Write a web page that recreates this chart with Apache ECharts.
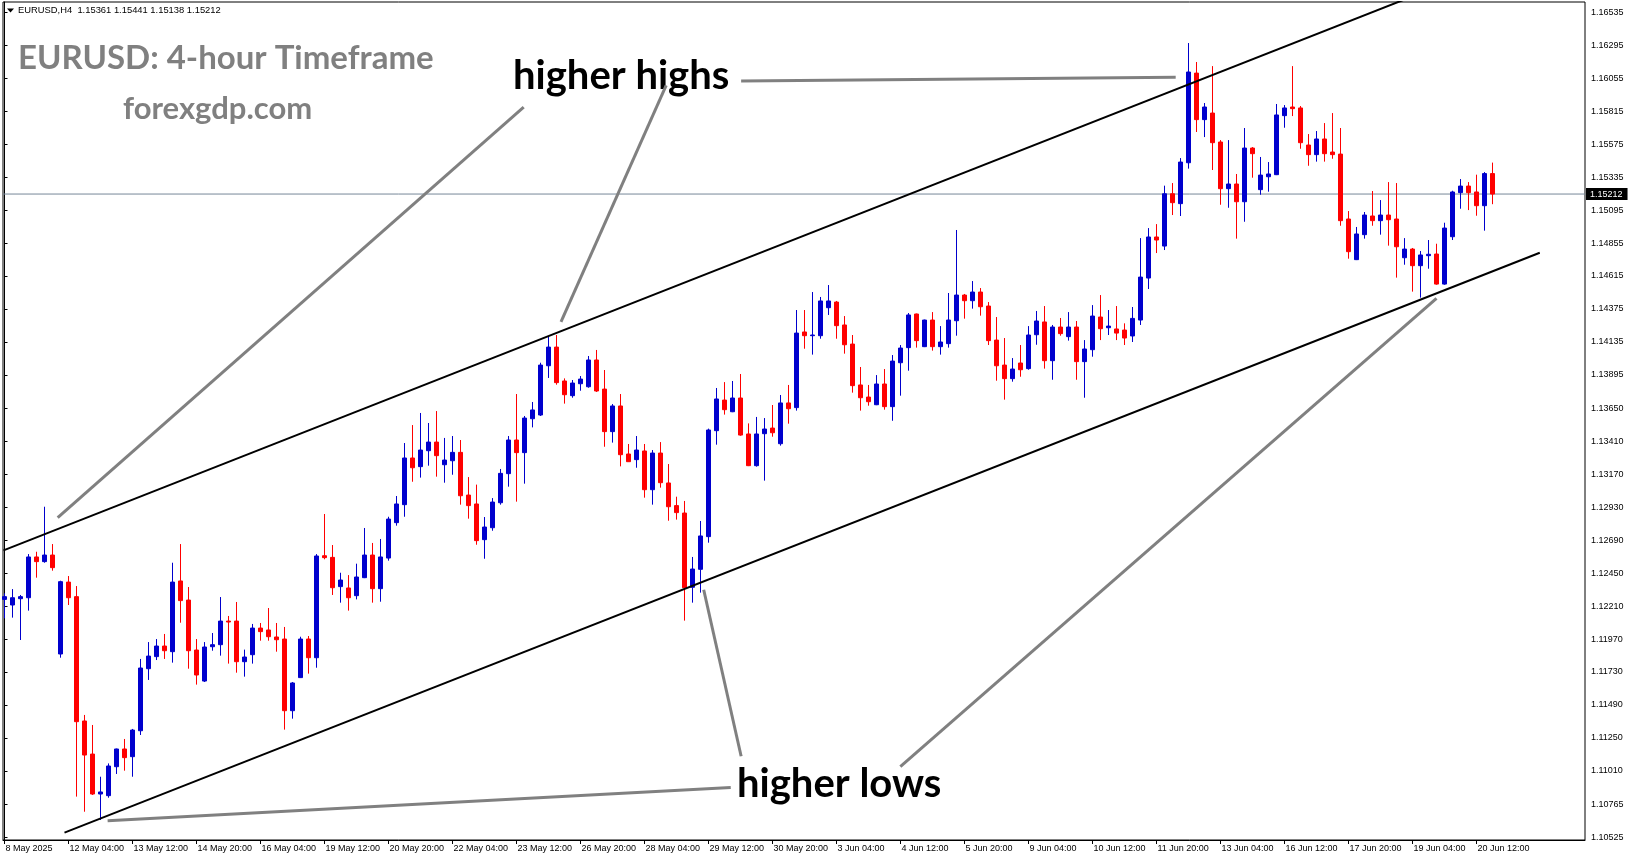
<!DOCTYPE html>
<html>
<head>
<meta charset="utf-8">
<script src="https://cdn.jsdelivr.net/npm/echarts@6/dist/echarts.min.js"></script>
<style>
html,body{margin:0;padding:0;background:#fff;}
#chart{width:1631px;height:861px;}
</style>
</head>
<body>
<div id="chart"></div>
<script>
// ---- data (EURUSD H4, bar 0 = 8 May 2025 20:00) ----
const symbol = "EURUSD";
const timeframe = "H4";
const open = [1.12259,1.12218,1.12264,1.12271,1.12568,1.12534,1.12582,1.11861,1.12385,1.12279,
1.11373,1.11132,1.10841,1.10829,1.11040,1.11169,1.11113,1.11302,1.11754,1.11842,
1.11919,1.11878,1.12393,1.12254,1.11890,1.11664,1.11914,1.11929,1.12101,1.12101,
1.11805,1.11856,1.12050,1.12036,1.11985,1.11970,1.11448,1.11689,1.11970,1.11834,
1.12577,1.12565,1.12352,1.12342,1.12286,1.12417,1.12582,1.12337,1.12560,1.12818,
1.12949,1.13289,1.13226,1.13342,1.13405,1.13240,1.13269,1.13330,1.13019,1.12954,
1.12694,1.12781,1.12963,1.13175,1.13420,1.13328,1.13575,1.13602,1.13961,1.14097,
1.13850,1.13743,1.13830,1.13808,1.14003,1.13791,1.13481,1.13668,1.13318,1.13277,
1.13340,1.13058,1.13325,1.13107,1.12942,1.12888,1.12347,1.12478,1.12716,1.13488,
1.13711,1.13626,1.13726,1.13464,1.13233,1.13466,1.13507,1.13393,1.13690,1.13656,
1.14207,1.14180,1.14180,1.14384,1.14425,1.14258,1.14119,1.13821,1.13733,1.13677,
1.13828,1.13663,1.13983,1.14093,1.14338,1.14100,1.14294,1.14100,1.14122,1.14289,
1.14476,1.14435,1.14498,1.14396,1.14148,1.13966,1.13867,1.13981,1.13940,1.14187,
1.14280,1.13998,1.14243,1.14173,1.14243,1.13991,1.14078,1.14316,1.14238,1.14229,
1.14221,1.14178,1.14294,1.14600,1.14899,1.14833,1.15214,1.15142,1.15440,1.16093,
1.15754,1.15802,1.15591,1.15251,1.15285,1.15156,1.15547,1.15244,1.15338,1.15353,
1.15783,1.15846,1.15839,1.15569,1.15499,1.15613,1.15518,1.15503,1.15030,1.14734,
1.14916,1.15052,1.15018,1.15059,1.15030,1.14748,1.14811,1.14690,1.14763,1.14775,
1.14556,1.14901,1.15222,1.15270,1.15227,1.15127,1.15361];
const high = [1.12303,1.12334,1.12291,1.12589,1.12606,1.12934,1.12662,1.12395,1.12429,1.12356,
1.11417,1.11344,1.10967,1.11064,1.11172,1.11242,1.11315,1.11825,1.11948,1.11970,
1.12007,1.12526,1.12662,1.12349,1.11970,1.11948,1.12014,1.12276,1.12138,1.12240,
1.11893,1.12080,1.12087,1.12196,1.12087,1.12058,1.11657,1.11987,1.11992,1.12589,
1.12881,1.12655,1.12453,1.12436,1.12519,1.12779,1.12670,1.12699,1.12861,1.13012,
1.13398,1.13529,1.13617,1.13544,1.13631,1.13435,1.13449,1.13420,1.13150,1.13095,
1.12859,1.12997,1.13209,1.13449,1.13755,1.13595,1.13697,1.13983,1.14178,1.14185,
1.13869,1.13857,1.13886,1.14032,1.14076,1.13930,1.13682,1.13755,1.13391,1.13449,
1.13391,1.13347,1.13405,1.13245,1.13007,1.12976,1.12568,1.12830,1.13503,1.13799,
1.13842,1.13850,1.13901,1.13541,1.13588,1.13580,1.13675,1.13748,1.13821,1.14367,
1.14367,1.14498,1.14462,1.14549,1.14433,1.14323,1.14185,1.13952,1.13821,1.13893,
1.13937,1.14039,1.14112,1.14345,1.14341,1.14297,1.14352,1.14250,1.14491,1.14950,
1.14484,1.14578,1.14527,1.14425,1.14316,1.14163,1.14017,1.14112,1.14250,1.14360,
1.14396,1.14258,1.14309,1.14352,1.14287,1.14148,1.14403,1.14476,1.14367,1.14396,
1.14270,1.14389,1.14891,1.14964,1.14993,1.15273,1.15292,1.15474,1.16312,1.16174,
1.15875,1.16144,1.15605,1.15605,1.15358,1.15693,1.15554,1.15482,1.15445,1.15868,
1.15860,1.16144,1.15853,1.15649,1.15671,1.15729,1.15802,1.15693,1.15088,1.14972,
1.15081,1.15234,1.15168,1.15299,1.15292,1.14891,1.14819,1.14797,1.14877,1.14850,
1.15003,1.15236,1.15321,1.15299,1.15353,1.15372,1.15441];
const low = [1.12121,1.12126,1.11963,1.12177,1.12417,1.12526,1.12468,1.11834,1.12218,1.10822,
1.10712,1.10834,1.10652,1.10814,1.10987,1.11011,1.10967,1.11271,1.11672,1.11817,
1.11825,1.11798,1.12089,1.11754,1.11638,1.11657,1.11885,1.11849,1.11791,1.11725,
1.11696,1.11791,1.11958,1.11958,1.11878,1.11310,1.11390,1.11686,1.11718,1.11761,
1.12551,1.12291,1.12235,1.12177,1.12259,1.12414,1.12235,1.12242,1.12541,1.12796,
1.12861,1.13116,1.13146,1.13233,1.13153,1.13109,1.13167,1.12949,1.12847,1.12657,
1.12555,1.12759,1.12949,1.13080,1.12971,1.13102,1.13512,1.13595,1.13872,1.13823,
1.13685,1.13728,1.13779,1.13801,1.13770,1.13371,1.13401,1.13228,1.13260,1.13218,
1.13000,1.12949,1.13073,1.12832,1.12840,1.12104,1.12235,1.12308,1.12672,1.13386,
1.13605,1.13623,1.13451,1.13230,1.13226,1.13124,1.13444,1.13379,1.13539,1.13634,
1.14085,1.14042,1.14158,1.14331,1.14158,1.14049,1.13765,1.13634,1.13670,1.13674,
1.13641,1.13560,1.13743,1.13925,1.14093,1.14097,1.14071,1.14042,1.14093,1.14180,
1.14304,1.14377,1.14326,1.14112,1.13852,1.13714,1.13845,1.13881,1.13932,1.14114,
1.13940,1.13859,1.14180,1.14144,1.13859,1.13728,1.14027,1.14148,1.14185,1.14148,
1.14112,1.14134,1.14258,1.14520,1.14782,1.14804,1.15059,1.15052,1.15397,1.15664,
1.15627,1.15387,1.15134,1.15112,1.14887,1.15010,1.15331,1.15207,1.15229,1.15350,
1.15695,1.15780,1.15542,1.15418,1.15448,1.15448,1.15469,1.14981,1.14741,1.14731,
1.14887,1.14981,1.14916,1.14836,1.14603,1.14697,1.14501,1.14457,1.14668,1.14551,
1.14551,1.14877,1.15105,1.15095,1.15054,1.14945,1.15138];
const close = [1.12279,1.12271,1.12279,1.12568,1.12534,1.12582,1.12490,1.12388,1.12271,1.11368,
1.11125,1.10841,1.10856,1.11045,1.11169,1.11106,1.11307,1.11759,1.11846,1.11919,
1.11885,1.12385,1.12250,1.11885,1.11708,1.11912,1.11929,1.12101,1.12094,1.11805,
1.11839,1.12050,1.12024,1.11987,1.11965,1.11448,1.11650,1.11970,1.11834,1.12575,
1.12563,1.12344,1.12400,1.12271,1.12422,1.12582,1.12337,1.12568,1.12844,1.12954,
1.13289,1.13218,1.13347,1.13405,1.13306,1.13274,1.13330,1.13014,1.12942,1.12687,
1.12786,1.12968,1.13177,1.13420,1.13328,1.13580,1.13639,1.13966,1.14097,1.13838,
1.13750,1.13835,1.13864,1.14003,1.13777,1.13481,1.13668,1.13313,1.13262,1.13347,
1.13058,1.13325,1.13109,1.12934,1.12891,1.12344,1.12480,1.12721,1.13493,1.13719,
1.13641,1.13726,1.13456,1.13233,1.13464,1.13500,1.13473,1.13690,1.13648,1.14199,
1.14180,1.14185,1.14433,1.14433,1.14253,1.14114,1.13816,1.13728,1.13699,1.13828,
1.13663,1.13995,1.14090,1.14331,1.14144,1.14294,1.14100,1.14134,1.14294,1.14476,
1.14435,1.14498,1.14391,1.14144,1.13961,1.13867,1.13937,1.13932,1.14185,1.14287,
1.13998,1.14243,1.14195,1.14243,1.13991,1.14083,1.14323,1.14231,1.14250,1.14199,
1.14163,1.14306,1.14607,1.14899,1.14877,1.15214,1.15149,1.15445,1.16101,1.15754,
1.15846,1.15586,1.15251,1.15285,1.15156,1.15547,1.15506,1.15350,1.15358,1.15788,
1.15839,1.15834,1.15586,1.15499,1.15613,1.15506,1.15499,1.15018,1.14792,1.14921,
1.15059,1.15018,1.15059,1.15025,1.14828,1.14811,1.14690,1.14768,1.14773,1.14556,
1.14964,1.15227,1.15270,1.15222,1.15127,1.15361,1.15212];

// time-axis labels, one every 8 bars starting at bar 0
const xLabels = ["8 May 2025","12 May 04:00","13 May 12:00","14 May 20:00","16 May 04:00","19 May 12:00",
"20 May 20:00","22 May 04:00","23 May 12:00","26 May 20:00","28 May 04:00","29 May 12:00","30 May 20:00",
"3 Jun 04:00","4 Jun 12:00","5 Jun 20:00","9 Jun 04:00","10 Jun 12:00","11 Jun 20:00","13 Jun 04:00",
"16 Jun 12:00","17 Jun 20:00","19 Jun 04:00","20 Jun 12:00"];
const labelStep = 8;
// price-axis labels
const yTicks = [1.16535,1.16295,1.16055,1.15815,1.15575,1.15335,1.15095,1.14855,1.14615,1.14375,1.14135,
1.13895,1.13650,1.13410,1.13170,1.12930,1.12690,1.12450,1.12210,1.11970,1.11730,1.11490,1.11250,1.11010,
1.10765,1.10525];
const priceMin = 1.10506, priceMax = 1.16611;
const barMin = -0.1875, barMax = 197.5625;

// drawn objects: [barIndex, price]
const upperChannel = [[-0.125,1.12616],[176,1.16652]];
const lowerChannel = [[7.5,1.10560],[191.91,1.14784]];
const arrowHH1 = [[6.65,1.12855],[64.9,1.15845]];
const arrowHH2 = [[69.56,1.14280],[82.71,1.16004]];
const arrowHH3 = [[92.08,1.16035],[146.4,1.16062]];
const arrowHL1 = [[87.4,1.12329],[92.08,1.11116]];
const arrowHL2 = [[12.89,1.10647],[90.78,1.10889]];
const arrowHL3 = [[111.98,1.11041],[179,1.14451]];

// ---- build ----
const candles = open.map((o,i)=>[i,o,close[i],low[i],high[i]]);
const last = candles.length-1;
const lastClose = close[last];
const header = symbol + "," + timeframe + "  " + open[last].toFixed(5) + " " + high[last].toFixed(5) + " " +
  low[last].toFixed(5) + " " + close[last].toFixed(5);
const xTickValues = xLabels.map((_,k)=>k*labelStep);

const axisFont = '"Liberation Sans", Arial, sans-serif';
const bigFont = 'Lato, "Open Sans", sans-serif';

function seg(data, color, width){
  return {type:'line', data:data, showSymbol:false, symbol:'none', silent:true, z:5,
    lineStyle:{color:color, width:width, cap:'butt'}, animation:false, clip:true};
}

const chart = echarts.init(document.getElementById('chart'), null, {renderer:'canvas'});
chart.setOption({
  animation:false,
  backgroundColor:'#ffffff',
  grid:{left:3, right:46, top:2, bottom:21, show:true, borderColor:'#000', borderWidth:1,
        backgroundColor:'transparent', containLabel:false, outerBoundsMode:'none'},
  xAxis:{type:'value', min:barMin, max:barMax, position:'bottom',
    axisLine:{show:true, onZero:false, lineStyle:{color:'#000', width:1}},
    axisTick:{show:true, length:4, lineStyle:{color:'#000'}, customValues:xTickValues},
    axisLabel:{show:true, customValues:xTickValues, formatter:v=>xLabels[Math.round(v/labelStep)]||'',
      align:'left', margin:4, padding:[0,0,0,1], color:'#000', fontSize:9, fontFamily:axisFont},
    splitLine:{show:false}},
  yAxis:{type:'value', position:'right', min:priceMin, max:priceMax, scale:true,
    axisLine:{show:true, lineStyle:{color:'#000', width:1}},
    axisTick:{show:true, length:3, lineStyle:{color:'#000'}, customValues:yTicks},
    axisLabel:{show:true, customValues:yTicks, formatter:v=>v.toFixed(5), align:'left', margin:6,
      color:'#000', fontSize:9, fontFamily:axisFont},
    splitLine:{show:false}},
  series:[
    {type:'line', data:[[barMin,lastClose],[barMax,lastClose]], showSymbol:false, symbol:'none', silent:true,
      z:1, clip:false, lineStyle:{color:'#778899', width:1},
      endLabel:{show:true, distance:1, formatter:lastClose.toFixed(5), color:'#fff', backgroundColor:'#000',
        padding:[2,5,1,4], fontSize:9, fontFamily:axisFont}},
    {type:'candlestick', data:candles, encode:{x:0, y:[1,2,3,4]}, barWidth:4, z:3, clip:true,
      itemStyle:{color:'#0000CD', color0:'#FF0000', borderColor:'#0000CD', borderColor0:'#FF0000', borderWidth:1},
      emphasis:{disabled:true}},
    seg(upperChannel,'#000',2),
    seg(lowerChannel,'#000',2),
    seg(arrowHH1,'#808080',3),
    seg(arrowHH2,'#808080',3),
    seg(arrowHH3,'#808080',3),
    seg(arrowHL1,'#808080',3),
    seg(arrowHL2,'#808080',3),
    seg(arrowHL3,'#808080',3)
  ],
  graphic:[
    {type:'polygon', shape:{points:[[7,8.5],[14,8.5],[10.5,12.5]]}, style:{fill:'#000'}, silent:true},
    {type:'text', x:18, y:10.5, silent:true, style:{text:header, fill:'#000', fontSize:9.4, fontFamily:axisFont, align:'left', verticalAlign:'middle'}},
    {type:'text', x:18, y:58, silent:true, style:{text:'EURUSD: 4-hour Timeframe', fill:'#808080', fontSize:33, fontWeight:'bold', fontFamily:bigFont, align:'left', verticalAlign:'middle'}},
    {type:'text', x:123, y:109, silent:true, style:{text:'forexgdp.com', fill:'#808080', fontSize:31, fontWeight:'bold', fontFamily:bigFont, align:'left', verticalAlign:'middle'}},
    {type:'text', x:513, y:76, silent:true, style:{text:'higher highs', fill:'#000', fontSize:40, fontWeight:'bold', fontFamily:bigFont, align:'left', verticalAlign:'middle'}},
    {type:'text', x:737, y:784, silent:true, style:{text:'higher lows', fill:'#000', fontSize:40, fontWeight:'bold', fontFamily:bigFont, align:'left', verticalAlign:'middle'}}
  ]
});
</script>
</body>
</html>
